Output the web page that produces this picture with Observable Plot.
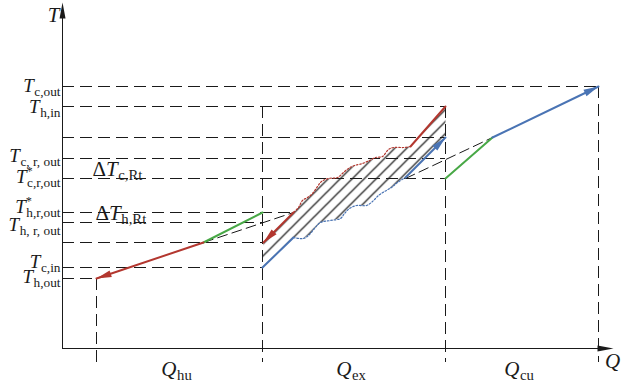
<!DOCTYPE html>
<html><head><meta charset="utf-8">
<script src="https://cdn.jsdelivr.net/npm/d3@7"></script>
<script src="https://cdn.jsdelivr.net/npm/@observablehq/plot@0.6"></script>
<style>html,body{margin:0;padding:0;background:#fff}svg{display:block}</style>
</head><body><div id="chart"></div>
<script>
// ---------------- data (Q = heat load, T = temperature; schematic units)
const tempValues = [131, 121, 105.5, 95, 85, 68, 63, 53, 40.5, 35];
const tempLabels = ["T_c,out", "T_h,in", null, "T_c, r, out", "T^*_c,r,out", "T^*_h,r,out", "T_h, r, out", null, "T_c,in", "T_h,out"];
const guideEndQ = [268, 191.5, 191.5, 191.5, 191.5, 115.5, 100, 100, 100, 17];
const qBounds = [17, 100, 191.5, 268];
const qTopT = [35, 121, 121, 131];
const qLabels = ["Q_hu", "Q_ex", "Q_cu"];
const deltaLabels = ["ΔT_c,Rt", "ΔT_h,Rt"];
const deltaQ = [15, 16.5];
const deltaT = [85, 63];

// hot side outside the exchanger
const hotUtility = [[100, 68], [70.5, 53]];
const hotOutlet = [[70.5, 53], [17, 35]];
const hotDiagonal = [[70.5, 53], [115.5, 68]];
// cold side outside the exchanger
const coldUtility = [[191.5, 85], [215, 105.5]];
const coldOutlet = [[215, 105.5], [268, 131]];
const coldDiagonal = [[171.5, 85], [215, 105.5]];
// inside the exchanger
const hotExTop = [[191.5, 121], [174, 101]];
const hotExWave = [[174, 101], [170.5, 100.5], [165.5, 100.5], [163, 99.5], [160, 96], [156.5, 95.5], [153.5, 94], [150, 92.5], [146, 91.5], [143, 90], [140.5, 88], [137.5, 85.5], [133, 85], [129.5, 83.5], [127.5, 81], [125, 77.5], [122.5, 75.5], [120, 74], [118, 70.5], [115.5, 68]];
const hotExArrow = [[115.5, 68], [100.5, 53]];
const coldExBottom = [[100, 40.5], [115.5, 55.5]];
const coldExWave = [[115.5, 55.5], [120.5, 55], [123.5, 57], [126, 60], [129, 63], [134, 64], [139, 65], [141, 67.5], [143.5, 70], [147, 71.5], [152, 71.5], [155, 73.5], [158, 76.5], [161, 78.5], [164.5, 80.5], [167.5, 83], [171.5, 85.5]];
const coldExArrow = [[171.5, 85.5], [191.5, 105.5]];

// ---------------- styles
const RED = "#b3372f", BLUE = "#4a74b4", GREEN = "#48a846", INK = "#1a1a1a";
const DASH = "12,6";
const labelDy = [5, 6, 0, 3, 4, 0, 8, 0, 0, 4];
const FONT = "'Liberation Serif','Times New Roman',serif";

// hatched region = lower boundary forward + upper boundary backward
const hatchPolygon = [...coldExBottom, ...coldExWave.slice(1), ...coldExArrow.slice(1),
  ...hotExTop, ...hotExWave.slice(1), ...hotExArrow.slice(1)];

function head(seg, kind) {
  const [a, b] = seg;
  return {q: b[0], t: b[1], angle: Math.atan2(b[0] - a[0], b[1] - a[1]) * 180 / Math.PI, kind};
}
const heads = [head(hotOutlet, "h"), head(coldOutlet, "c"), head(hotExArrow, "h"), head(coldExArrow, "c")];
const axisHeads = [{q: 0, t: 173, angle: 0}, {q: 275.5, t: 0, angle: 90}];

const line = (d, o) => Plot.line(d, {x: p => p[0], y: p => p[1], ...o});

const yLabelMarks = tempLabels.map((lab, i) => lab == null ? null :
  Plot.text([tempValues[i]], {x: () => -1, y: d => d, text: () => lab, textAnchor: "end", lineAnchor: "bottom", dy: labelDy[i], fontSize: 19}));

const svg = Plot.plot({
  width: 622, height: 384,
  x: {domain: [0, 280], range: [62, 622], axis: null},
  y: {domain: [0, 174], range: [348, 0], axis: null},
  style: {fontFamily: FONT, background: "#fff", color: INK},
  marks: [
    line(hatchPolygon, {fill: "url(#hatch)", stroke: "none"}),
    Plot.ruleY(tempValues, {y: d => d, x1: () => 0, x2: (d, i) => guideEndQ[i], stroke: INK, strokeWidth: 1, strokeDasharray: DASH}),
    Plot.ruleX(qBounds, {x: d => d, y1: (d, i) => qTopT[i], y2: () => -7, stroke: INK, strokeWidth: 1, strokeDasharray: DASH}),
    line(hotDiagonal, {stroke: INK, strokeWidth: 1, strokeDasharray: "10,5"}),
    line(coldDiagonal, {stroke: INK, strokeWidth: 1, strokeDasharray: "10,5"}),
    line(hotExWave, {stroke: RED, strokeWidth: 1.2, strokeDasharray: "1.6,1.8", curve: "catmull-rom"}),
    line(coldExWave, {stroke: BLUE, strokeWidth: 1.2, strokeDasharray: "1.6,1.8", curve: "catmull-rom"}),
    line(hotUtility, {stroke: GREEN, strokeWidth: 2}),
    line(coldUtility, {stroke: GREEN, strokeWidth: 2}),
    line(hotOutlet, {stroke: RED, strokeWidth: 2}),
    line(coldOutlet, {stroke: BLUE, strokeWidth: 2}),
    line(hotExTop, {stroke: RED, strokeWidth: 2}),
    line(hotExArrow, {stroke: RED, strokeWidth: 2}),
    line(coldExBottom, {stroke: BLUE, strokeWidth: 2}),
    line(coldExArrow, {stroke: BLUE, strokeWidth: 2}),
    Plot.vector(heads, {x: "q", y: "t", rotate: "angle", length: 15, r: 3.5, shape: "spike", anchor: "end",
      fill: d => d.kind === "h" ? RED : BLUE, stroke: "none"}),
    // axes
    Plot.ruleX([0], {x: d => d, y1: () => 0, y2: () => 168, stroke: INK, strokeWidth: 1}),
    Plot.ruleY([0], {y: d => d, x1: () => 0, x2: () => 270, stroke: INK, strokeWidth: 1}),
    Plot.vector(axisHeads, {x: "q", y: "t", rotate: "angle", length: 16, r: 3, shape: "spike", anchor: "end", fill: INK, stroke: "none"}),
    Plot.text(["T"], {x: () => 0, y: () => 173, text: d => d, textAnchor: "end", lineAnchor: "bottom", dx: -3, dy: 19, fontSize: 21, fontStyle: "italic"}),
    Plot.text(["Q"], {x: () => 275, y: () => 0, text: d => d, textAnchor: "middle", lineAnchor: "bottom", dy: 19, fontSize: 21, fontStyle: "italic"}),
    ...yLabelMarks.filter(Boolean),
    Plot.text(deltaLabels, {x: (d, i) => deltaQ[i], y: (d, i) => deltaT[i], text: d => d, textAnchor: "start", lineAnchor: "bottom", dy: -3, fontSize: 21}),
    Plot.text(qLabels, {x: (d, i) => (qBounds[i] + qBounds[i + 1]) / 2, y: () => 0, text: d => d, textAnchor: "middle", lineAnchor: "bottom", dy: 27, dx: -3, fontSize: 21})
  ]
});

// hatch pattern
const ns = "http://www.w3.org/2000/svg";
const defs = document.createElementNS(ns, "defs");
const pat = document.createElementNS(ns, "pattern");
pat.setAttribute("id", "hatch");
pat.setAttribute("patternUnits", "userSpaceOnUse");
pat.setAttribute("width", 12); pat.setAttribute("height", 12); pat.setAttribute("x", 2);
const pp = document.createElementNS(ns, "path");
pp.setAttribute("d", "M-1,1L1,-1M0,12L12,0M11,13L13,11");
pp.setAttribute("stroke", "#000"); pp.setAttribute("stroke-width", "1.2"); pp.setAttribute("fill", "none");
pat.appendChild(pp); defs.appendChild(pat);
svg.insertBefore(defs, svg.firstChild);

document.getElementById("chart").appendChild(svg);

// subscripts / superscripts as real tspans
svg.querySelectorAll("text").forEach(t => {
  const s = t.textContent;
  const k = s.indexOf("_");
  if (k < 0) return;
  const fs = parseFloat(getComputedStyle(t).fontSize) || 20;
  let main = s.slice(0, k);
  const sub = s.slice(k + 1);
  const star = main.includes("^*");
  main = main.replace("^*", "");
  t.textContent = "";
  const add = (txt, attrs) => {
    const e = document.createElementNS(ns, "tspan");
    e.textContent = txt;
    for (const a in attrs) e.setAttribute(a, attrs[a]);
    t.appendChild(e);
  };
  if (main.startsWith("Δ")) { add("Δ", {"font-style": "normal"}); main = main.slice(1); }
  add(main, {"font-style": "italic"});
  if (star) add("*", {"font-size": 0.65 * fs, dy: -0.42 * fs});
  add(sub, {"font-style": "normal", "font-size": 0.7 * fs, dy: (star ? 0.42 * fs : 0) + 0.22 * fs, dx: star ? -0.3 * fs : 0.03 * fs});
});
</script></body></html>
